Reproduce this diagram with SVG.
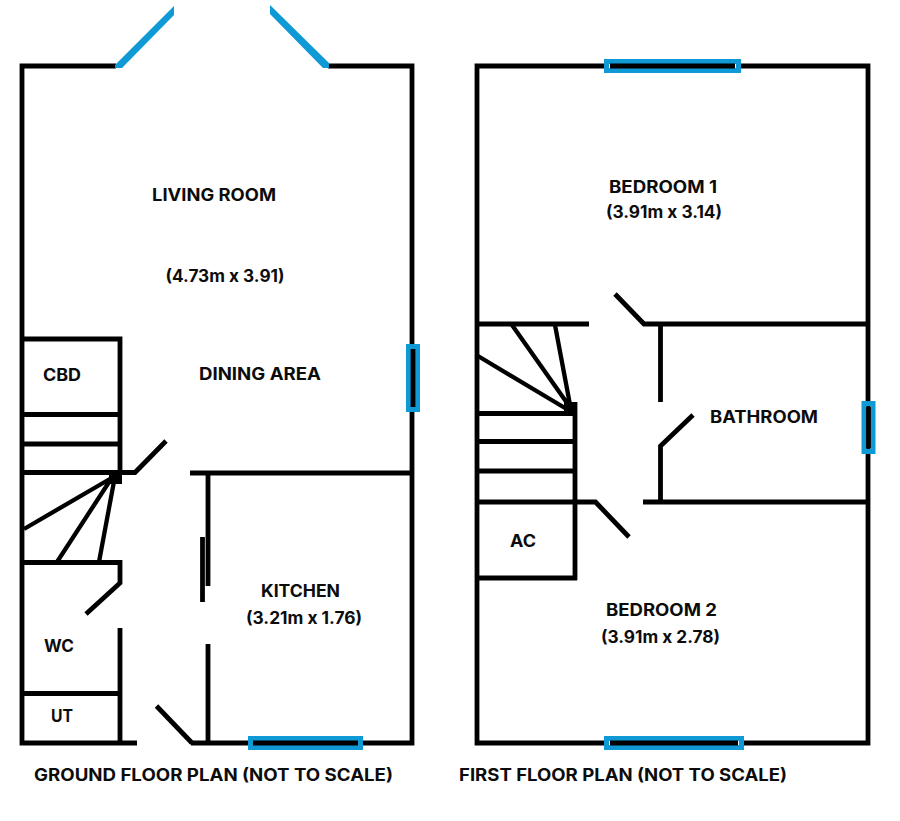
<svg xmlns="http://www.w3.org/2000/svg" width="900" height="821" viewBox="0 0 900 821">
<style>
.w{fill:none;stroke:#000;stroke-width:4.800;stroke-linejoin:miter}
.t{fill:none;stroke:#000;stroke-width:4.300}
.g{fill:none;stroke:#0f9ad6;stroke-width:5}
.b{fill:#0f9ad6}
.k{fill:#000}
text{font-family:"Inter","Liberation Sans",sans-serif;font-weight:700;font-size:17px;fill:#0c0c0c;text-anchor:middle}
</style>
<rect width="900" height="821" fill="#fff"/>
<g id="ground-floor">
<path class="w" d="M116 66H22V743H137M191 743H412V66H328"/>
<polygon class="b" points="115,65 115,68 122,68 174,15 174,6"/>
<polygon class="b" points="270,5 270,14 323,68 329,68 329,63"/>
<path class="w" d="M22 339H120V473M22 414.500H120M22 444H120M22 472.500H135L166 441"/>
<rect class="k" x="109" y="470" width="13" height="14"/>
<path class="t" d="M115 476L24 529M113 476L57 562M115 476L99 562"/>
<path class="w" d="M24 562.500H120V583L86 614"/>
<path class="w" d="M190 473H412M208 473V586M202.500 537V602M208 644V743"/>
<path class="w" d="M120 628V743M22 693.500H120M156.500 706L192 743"/>
<rect class="g" x="250.500" y="738.500" width="110" height="9"/>
<path class="w" d="M253 743H358"/>
<rect class="g" x="408.500" y="346.500" width="9" height="63"/>
<path class="w" d="M413 349V407"/>
</g>
<g id="first-floor">
<path class="w" d="M606 66H477V743H606M742 743H868V66H740"/>
<rect class="g" x="606.500" y="61.500" width="132" height="9"/>
<path class="w" d="M610 66H735"/>
<rect class="g" x="606.500" y="738.500" width="135" height="9"/>
<path class="w" d="M610 743H738"/>
<rect class="g" x="864" y="403.500" width="9" height="48"/>
<path class="w" d="M868.500 407V448"/>
<path class="w" d="M477 324H589M615 294L644 324H868M660.500 324V402M693 415L660.500 446V502M643 502H868"/>
<rect class="k" x="564" y="402" width="13" height="13"/>
<path class="t" d="M572 410L512 325M571 410L555 325M570 411L478 356"/>
<path class="w" d="M477 413.500H575M477 441.500H575M477 471H575M575 402V580M477 578H577M477 502H595.500L629 537"/>
</g>
<g id="labels">
<text x="214" y="200.500" textLength="124" lengthAdjust="spacingAndGlyphs">LIVING ROOM</text>
<text x="225" y="281.500" textLength="119" lengthAdjust="spacingAndGlyphs">(4.73m x 3.91)</text>
<text x="260" y="380" textLength="122" lengthAdjust="spacingAndGlyphs">DINING AREA</text>
<text x="62" y="381" textLength="38" lengthAdjust="spacingAndGlyphs">CBD</text>
<text x="300.500" y="597" textLength="79" lengthAdjust="spacingAndGlyphs">KITCHEN</text>
<text x="304" y="623.500" textLength="116" lengthAdjust="spacingAndGlyphs">(3.21m x 1.76)</text>
<text x="59" y="652" textLength="30" lengthAdjust="spacingAndGlyphs">WC</text>
<text x="62" y="721.500" textLength="22" lengthAdjust="spacingAndGlyphs">UT</text>
<text x="213.500" y="781" textLength="359" lengthAdjust="spacingAndGlyphs">GROUND FLOOR PLAN (NOT TO SCALE)</text>
<text x="663" y="192.500" textLength="108" lengthAdjust="spacingAndGlyphs">BEDROOM 1</text>
<text x="664" y="217.500" textLength="116" lengthAdjust="spacingAndGlyphs">(3.91m x 3.14)</text>
<text x="764" y="423" textLength="108" lengthAdjust="spacingAndGlyphs">BATHROOM</text>
<text x="523" y="546.500" textLength="26" lengthAdjust="spacingAndGlyphs">AC</text>
<text x="661.500" y="615.500" textLength="111" lengthAdjust="spacingAndGlyphs">BEDROOM 2</text>
<text x="660.500" y="642.500" textLength="119" lengthAdjust="spacingAndGlyphs">(3.91m x 2.78)</text>
<text x="623" y="781" textLength="328" lengthAdjust="spacingAndGlyphs">FIRST FLOOR PLAN (NOT TO SCALE)</text>
</g>
</svg>
